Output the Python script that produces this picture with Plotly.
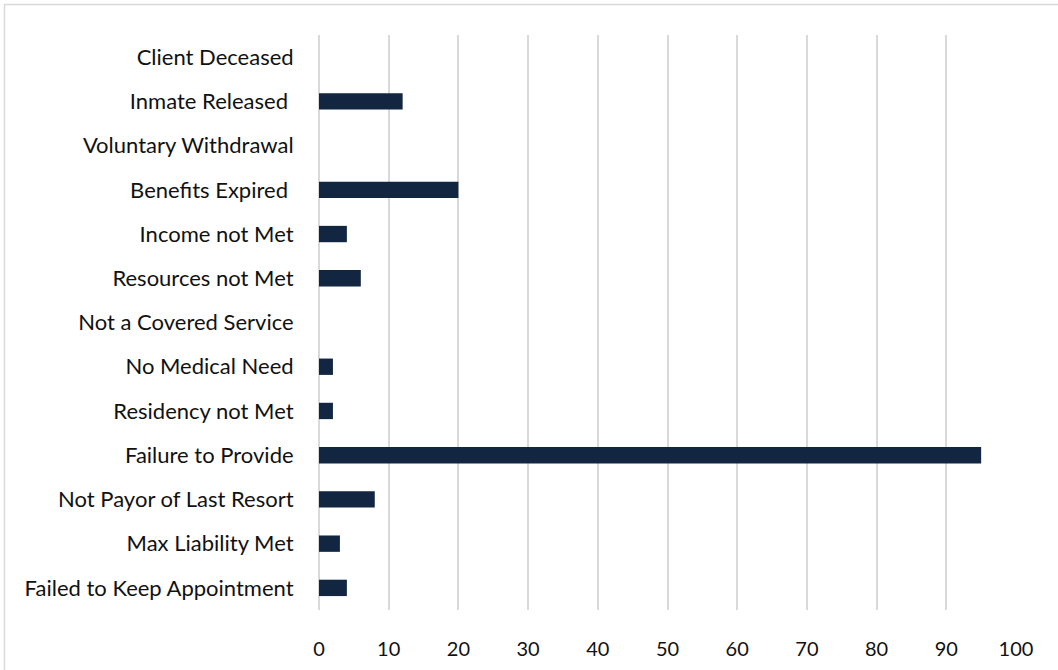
import plotly.graph_objects as go

categories = [
    "Failed to Keep Appointment",
    "Max Liability Met",
    "Not Payor of Last Resort",
    "Failure to Provide",
    "Residency not Met",
    "No Medical Need",
    "Not a Covered Service",
    "Resources not Met",
    "Income not Met",
    "Benefits Expired ",
    "Voluntary Withdrawal",
    "Inmate Released ",
    "Client Deceased",
]
values = [4, 3, 8, 95, 2, 2, 0, 6, 4, 20, 0, 12, 0]
x_ticks = [0, 10, 20, 30, 40, 50, 60, 70, 80, 90, 100]

W, H = 1058, 670
L, R, T, B = 319, 42, 35, 60
pw, ph = W - L - R, H - T - B

fig = go.Figure(go.Bar(
    x=values, y=categories, orientation="h",
    marker=dict(color="#132641", line=dict(width=0)),
    width=0.37,
))

fig.update_layout(
    width=W, height=H,
    margin=dict(l=L, r=R, t=T, b=B, autoexpand=False),
    paper_bgcolor="white", plot_bgcolor="white",
    font=dict(family="Lato", size=22, color="#111111"),
    showlegend=False,
    xaxis=dict(
        range=[0, 100], tickvals=x_ticks, ticktext=[str(v) for v in x_ticks],
        tickfont=dict(size=20),
        showgrid=True, gridcolor="#d9d9d9", gridwidth=1.5,
        zeroline=True, zerolinecolor="#d9d9d9", zerolinewidth=1.5,
        showline=False, ticks="outside", ticklen=21, tickcolor="rgba(0,0,0,0)",
        fixedrange=True,
    ),
    yaxis=dict(
        categoryorder="array", categoryarray=categories,
        range=[-0.5, len(categories) - 0.5],
        showgrid=False, zeroline=False, showline=False,
        ticks="outside", ticklen=20, tickcolor="rgba(0,0,0,0)",
        fixedrange=True,
    ),
    shapes=[dict(
        type="rect", xref="paper", yref="paper",
        x0=(4.5 - L) / pw, x1=(W + 10 - L) / pw,
        y0=-(H + 10 - T - ph) / ph, y1=(T + ph - 4.5) / ph,
        line=dict(color="#d9d9d9", width=1.5), fillcolor="rgba(0,0,0,0)",
        layer="below",
    )],
)

fig.write_html("out.html", config={"displayModeBar": False},
               post_script="document.body.style.margin='0';")
